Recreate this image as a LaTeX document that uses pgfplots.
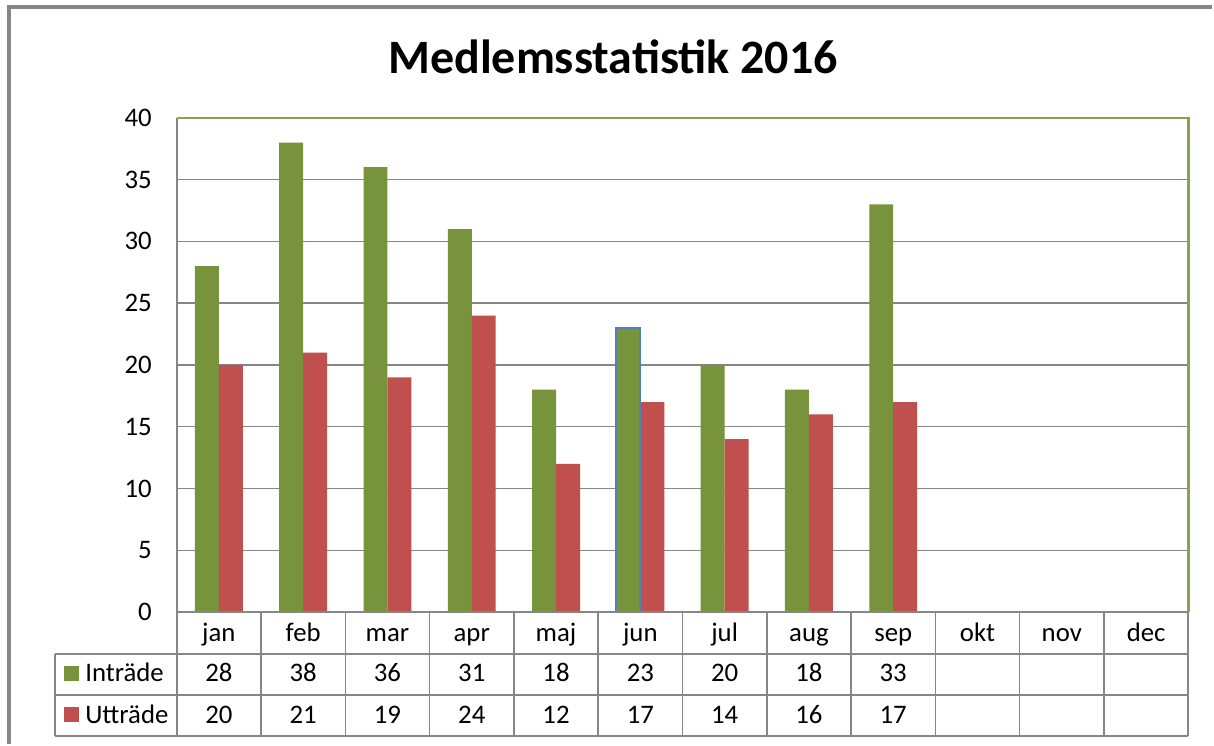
\documentclass[border=0pt]{standalone}
\usepackage{pgfplots}
\pgfplotsset{compat=1.18}
\usepackage{fontspec}
\setmainfont{Carlito}
\definecolor{ingreen}{HTML}{77933C}
\definecolor{utred}{HTML}{C0504D}
\definecolor{gridgray}{HTML}{868686}
\definecolor{selblue}{HTML}{4F81BD}
\definecolor{frameg}{HTML}{86A34D}
\newcommand{\tblfont}{\fontsize{13.4}{15}\selectfont}
\begin{document}
\begin{tikzpicture}
\begin{scope}[x=0.5pt,y=-0.5pt]
\useasboundingbox (0,0) rectangle (1214,745);
\fill[white] (0,0) rectangle (1214,745);
\end{scope}
\begin{axis}[
  at={(88.5pt,-306.5pt)}, anchor=south west,
  scale only axis, width=506.5pt, height=247.5pt,
  xmin=-0.5, xmax=11.5, ymin=0, ymax=40,
  ytick={0,5,...,40}, xtick=\empty,
  ymajorgrids, grid style={gridgray, line width=0.7pt},
  axis line style={draw=none},
  major tick length=0pt,
  ybar, bar width=12pt,
  ticklabel style={font=\tblfont, /pgf/number format/assume math mode=true},
  yticklabel style={xshift=-9pt},
  clip=false,
]
\addplot[fill=ingreen, draw=none, bar shift=-6pt] coordinates {(0,28) (1,38) (2,36) (3,31) (4,18) (5,23) (6,20) (7,18) (8,33)};
\addplot[fill=utred, draw=none, bar shift=6pt] coordinates {(0,20) (1,21) (2,19) (3,24) (4,12) (5,17) (6,14) (7,16) (8,17)};
\addplot[fill=none, draw=selblue, line width=1pt, bar shift=-6pt, forget plot] coordinates {(5,23)};
\end{axis}
\begin{scope}[x=0.5pt,y=-0.5pt]
% plot area border
\draw[gridgray, line width=0.8pt] (177,613) -- (177,118);
\draw[frameg, line width=1.3pt] (177,118) -- (1190,118) -- (1190,613);
% data table
\begin{scope}[gridgray, line width=0.8pt]
\draw (177,613) -- (1190,613);
\draw (55,655) -- (1190,655);
\draw (55,696) -- (1190,696);
\draw (55,737) -- (1190,737);
\draw (55,655) -- (55,737);
\foreach \k in {0,...,12} \draw ({177+\k*84.4167},613) -- ({177+\k*84.4167},737);
\end{scope}
\foreach \m [count=\i from 0] in {jan,feb,mar,apr,maj,jun,jul,aug,sep,okt,nov,dec}
  \node[font=\tblfont, anchor=base, inner sep=0pt] at ({219.2+\i*84.4167},642) {\m};
\foreach \v [count=\i from 0] in {28,38,36,31,18,23,20,18,33}
  \node[font=\tblfont, anchor=base, inner sep=0pt] at ({219.2+\i*84.4167},683) {\v};
\foreach \v [count=\i from 0] in {20,21,19,24,12,17,14,16,17}
  \node[font=\tblfont, anchor=base, inner sep=0pt] at ({219.2+\i*84.4167},724.5) {\v};
% legend keys
\fill[ingreen] (64,667) rectangle (79,682);
\fill[utred] (64,708) rectangle (79,723);
\node[font=\tblfont, anchor=base west, inner sep=0pt] at (85,683) {Inträde};
\node[font=\tblfont, anchor=base west, inner sep=0pt] at (85,724.5) {Utträde};
% title
\node[font=\fontsize{24}{28}\selectfont\bfseries, anchor=base, inner sep=0pt] at (614,74) {Medlemsstatistik 2016};
% outer chart frame
\draw[gridgray, line width=1.8pt] (9,745) -- (9,7) -- (1214,7);
\end{scope}
\end{tikzpicture}
\end{document}
